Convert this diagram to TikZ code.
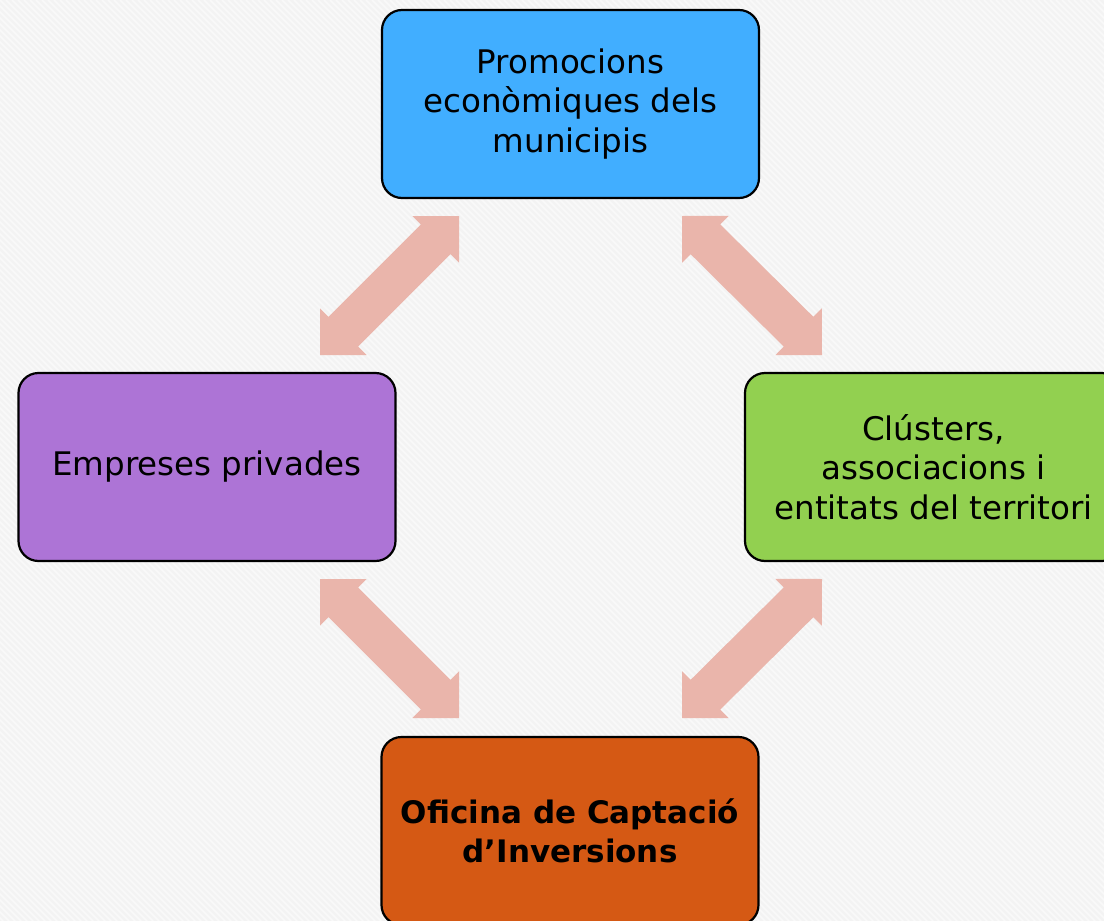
\documentclass[tikz,border=0pt]{standalone}
\usepackage{fontspec}
\setmainfont{DejaVu Sans}
\usetikzlibrary{calc}
\definecolor{bg}{RGB}{243,243,243}
\definecolor{arr}{RGB}{234,181,171}
\definecolor{cblue}{RGB}{65,174,255}
\definecolor{cpurple}{RGB}{173,116,214}
\definecolor{cgreen}{RGB}{146,208,80}
\definecolor{corange}{RGB}{213,89,20}
\newcommand\blockarrow[2]{%
  \fill[arrowfill]
    (#1)
    -- ($($(#1)!33pt!(#2)$)!33pt!90:(#2)$)
    -- ($($(#1)!33pt!(#2)$)!21pt!90:(#2)$)
    -- ($($(#2)!33pt!(#1)$)!21pt!-90:(#1)$)
    -- ($($(#2)!33pt!(#1)$)!33pt!-90:(#1)$)
    -- (#2)
    -- ($($(#2)!33pt!(#1)$)!33pt!90:(#1)$)
    -- ($($(#2)!33pt!(#1)$)!21pt!90:(#1)$)
    -- ($($(#1)!33pt!(#2)$)!21pt!-90:(#2)$)
    -- ($($(#1)!33pt!(#2)$)!33pt!-90:(#2)$)
    -- cycle;}
\begin{document}
\begin{tikzpicture}[x=1pt,y=-1pt,
  box/.style={draw=black, line width=2.2pt, rounded corners=20pt,
    minimum width=377pt, minimum height=188pt, align=center, inner sep=0pt,
    font=\fontsize{32.5}{39.5}\selectfont, text=black},
  boldbox/.style={box, font=\fontsize{31}{39.5}\selectfont\bfseries},
  arrowfill/.style={fill=arr, draw=none}]
\useasboundingbox (0,0) rectangle (1104,921);
\begin{scope}
  \clip (0,0) rectangle (1104,921);
  \fill[bg] (0,0) rectangle (1104,921);
  \foreach \i in {-930,-924,...,1110} {
    \draw[white, line width=1.6pt, opacity=0.55] (\i,0) -- (\i+921,921);
  }
  \node[box, fill=cblue] (prom) at (570.5,104) {Promocions\\econòmiques dels\\municipis};
  \node[box, fill=cpurple] (emp) at (207,467) {Empreses privades};
  \node[box, fill=cgreen] (clus) at (933.5,467) {Clústers,\\associacions i\\entitats del territori};
  \node[boldbox, fill=corange] (ofi) at (570,831) {Oficina de Captació\\d’Inversions};
  \coordinate (a1s) at (320,355); \coordinate (a1e) at (459,216);
  \coordinate (a2s) at (682,216); \coordinate (a2e) at (822,355);
  \coordinate (a3s) at (320,579); \coordinate (a3e) at (459,718);
  \coordinate (a4s) at (822,579); \coordinate (a4e) at (682,718);
  \blockarrow{a1s}{a1e}
  \blockarrow{a2s}{a2e}
  \blockarrow{a3s}{a3e}
  \blockarrow{a4s}{a4e}
\end{scope}
\end{tikzpicture}
\end{document}
